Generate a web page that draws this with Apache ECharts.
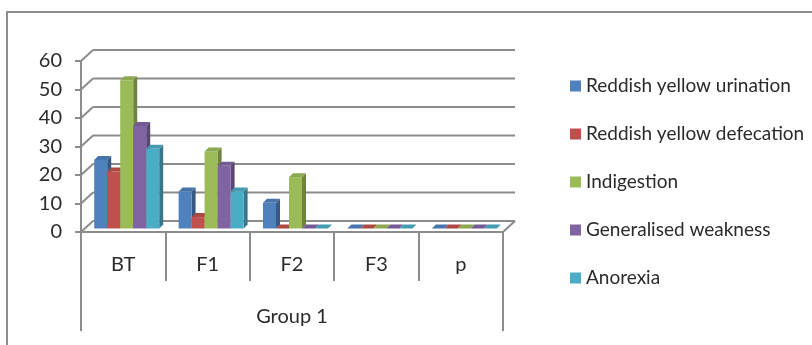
<!DOCTYPE html>
<html>
<head>
<meta charset="utf-8">
<script src="https://cdn.jsdelivr.net/npm/echarts@6/dist/echarts.min.js"></script>
<style>
html, body { margin: 0; padding: 0; background: #fff; }
#chart { width: 812px; height: 345px; }
</style>
</head>
<body>
<div id="chart"></div>
<script>
const categories = ['BT', 'F1', 'F2', 'F3', 'p'];
const groupLabel = ['Group 1'];
const yTicks = [0, 10, 20, 30, 40, 50, 60];
const seriesNames = ['Reddish yellow urination', 'Reddish yellow defecation', 'Indigestion', 'Generalised weakness', 'Anorexia'];
const urination = [24, 13, 9, 0, 0];
const defecation = [20, 4, 0, 0, 0];
const indigestion = [52, 27, 18, 0, 0];
const weakness = [36, 22, 0, 0, 0];
const anorexia = [28, 13, 0, 0, 0];
const seriesValues = [urination, defecation, indigestion, weakness, anorexia];
const colors = ['#4F81BD', '#C0504D', '#9BBB59', '#8064A2', '#4BACC6'];

const FONT = 'Lato';
const textColor = '#2b2b2b';
const WALL_DX = 12, WALL_DY = 11;   // depth of the 3d floor / back wall
const BAR_DX = 3.5, BAR_DY = 3.5;   // bars sit a little back from the front edge
const BAR_D = 4;                    // bar depth
const gridColor = '#8c8c8c';

function shade(hex, k) {
  const n = parseInt(hex.slice(1), 16);
  const r = Math.round(((n >> 16) & 255) * k);
  const g = Math.round(((n >> 8) & 255) * k);
  const b = Math.round((n & 255) * k);
  return 'rgb(' + r + ',' + g + ',' + b + ')';
}

// back wall gridlines + left wall diagonals + floor
function renderWall(params, api) {
  const cs = params.coordSys;
  const v = api.value(1);
  const yf = api.coord([0, v])[1];
  const yb = yf - WALL_DY;
  const xl = cs.x, xr = cs.x + cs.width;
  const style = { stroke: gridColor, lineWidth: 2 };
  const children = [
    { type: 'line', shape: { x1: xl, y1: yf, x2: xl + WALL_DX, y2: yb }, style },
    { type: 'line', shape: { x1: xl + WALL_DX, y1: yb, x2: xr + WALL_DX, y2: yb }, style }
  ];
  if (v === 0) {
    children.push({ type: 'line', shape: { x1: xr, y1: yf, x2: xr + WALL_DX, y2: yb }, style });
  }
  return { type: 'group', children };
}

function renderBar(s) {
  return function (params, api) {
    const i = api.value(0);
    const v = api.value(1);
    const w = api.size([1, 0])[0] * 0.154;
    const p0 = api.coord([i, 0]);
    const p1 = api.coord([i, v]);
    const x0 = p0[0] - 2.5 * w + s * w + BAR_DX;
    const yb = p0[1] - BAR_DY;
    const yt = p1[1] - BAR_DY;
    const c = colors[s];
    const D = BAR_D;
    return {
      type: 'group',
      children: [
        { type: 'polygon', shape: { points: [[x0 + w, yt], [x0 + w + D, yt - D], [x0 + w + D, yb - D], [x0 + w, yb]] }, style: { fill: shade(c, 0.7) } },
        { type: 'rect', shape: { x: x0, y: yt, width: w, height: yb - yt }, style: { fill: c } },
        { type: 'polygon', shape: { points: [[x0, yt], [x0 + D, yt - D], [x0 + w + D, yt - D], [x0 + w, yt]] }, style: { fill: shade(c, 0.9) } }
      ]
    };
  };
}

const chart = echarts.init(document.getElementById('chart'));

const series = [{
  type: 'custom',
  name: 'wall',
  silent: true,
  z: 1,
  renderItem: renderWall,
  data: yTicks.map(v => [0, v])
}];
seriesNames.forEach((name, s) => {
  series.push({
    type: 'custom',
    name: name,
    z: 2,
    itemStyle: { color: colors[s] },
    renderItem: renderBar(s),
    data: seriesValues[s].map((v, i) => [i, v])
  });
});

chart.setOption({
  animation: false,
  textStyle: { fontFamily: FONT },
  graphic: [{
    type: 'rect',
    shape: { x: 7, y: 12, width: 900, height: 400 },
    style: { fill: 'none', stroke: '#8c8c8c', lineWidth: 2 }
  }],
  legend: {
    orient: 'vertical',
    left: 570,
    top: 76,
    padding: 0,
    itemWidth: 11,
    itemHeight: 11,
    itemGap: 28,
    icon: 'rect',
    data: seriesNames,
    textStyle: { fontFamily: FONT, fontSize: 19, lineHeight: 20, color: textColor }
  },
  grid: { left: 81, right: 309, top: 61, bottom: 113 },
  xAxis: [{
    type: 'category',
    data: categories,
    position: 'bottom',
    axisLine: { show: true, lineStyle: { color: gridColor, width: 2 } },
    axisTick: { show: true, length: 49, interval: 0, lineStyle: { color: gridColor, width: 2 } },
    axisLabel: { margin: 23, fontSize: 20, lineHeight: 20, color: textColor, fontFamily: FONT },
    splitLine: { show: false }
  }, {
    type: 'category',
    data: groupLabel,
    position: 'bottom',
    axisLine: { show: false },
    axisTick: { show: true, length: 99, lineStyle: { color: gridColor, width: 2 } },
    axisLabel: { margin: 75, fontSize: 20, lineHeight: 20, color: textColor, fontFamily: FONT },
    splitLine: { show: false }
  }],
  yAxis: {
    type: 'value',
    min: 0,
    max: 60,
    interval: 10,
    axisLine: { show: true, lineStyle: { color: gridColor, width: 2 } },
    axisTick: { show: true, length: 6, lineStyle: { color: gridColor, width: 2 } },
    axisLabel: { margin: 19, fontSize: 20, color: textColor, fontFamily: FONT },
    splitLine: { show: false }
  },
  series: series
});
</script>
</body>
</html>
